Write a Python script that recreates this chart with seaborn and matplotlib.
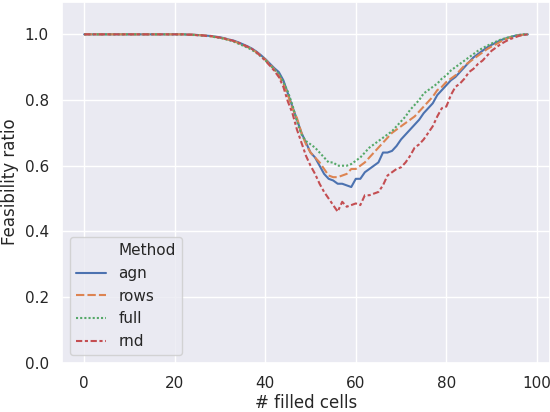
import pandas as pd
import numpy as np
import seaborn as sns
import matplotlib.pyplot as plt
from matplotlib.lines import Line2D

# number of filled cells, 0..98
cells = list(range(99))

head = [1.0] * 21  # x = 0..20, all methods fully feasible

agn = head + [
    1.0, 1.0, 0.999, 0.999, 0.998, 0.997, 0.996, 0.995, 0.993, 0.991,  # 21-30
    0.988, 0.984, 0.981, 0.976, 0.970, 0.964, 0.957, 0.948, 0.937, 0.925,  # 31-40
    0.911, 0.897, 0.885, 0.86, 0.82, 0.78, 0.74, 0.70, 0.67, 0.64,  # 41-50
    0.625, 0.60, 0.575, 0.56, 0.555, 0.545, 0.545, 0.54, 0.535, 0.56,  # 51-60
    0.56, 0.58, 0.59, 0.60, 0.61, 0.64, 0.64, 0.645, 0.66, 0.68,  # 61-70
    0.695, 0.71, 0.725, 0.74, 0.76, 0.775, 0.79, 0.815, 0.83, 0.845,  # 71-80
    0.86, 0.87, 0.885, 0.90, 0.915, 0.93, 0.94, 0.95, 0.96, 0.968,  # 81-90
    0.975, 0.982, 0.987, 0.991, 0.995, 0.998, 0.999, 1.0]  # 91-98

rows = head + [
    1.0, 1.0, 0.999, 0.999, 0.998, 0.997, 0.996, 0.994, 0.992, 0.990,
    0.987, 0.983, 0.979, 0.974, 0.968, 0.962, 0.955, 0.946, 0.935, 0.923,
    0.909, 0.893, 0.875, 0.85, 0.815, 0.775, 0.745, 0.70, 0.665, 0.64,
    0.625, 0.61, 0.59, 0.57, 0.565, 0.565, 0.57, 0.575, 0.59, 0.59,
    0.60, 0.61, 0.625, 0.64, 0.655, 0.67, 0.685, 0.70, 0.71, 0.72,
    0.73, 0.74, 0.75, 0.765, 0.78, 0.795, 0.81, 0.83, 0.84, 0.855,
    0.865, 0.875, 0.89, 0.905, 0.915, 0.925, 0.935, 0.945, 0.955, 0.963,
    0.97, 0.978, 0.985, 0.99, 0.994, 0.997, 0.999, 1.0]

full = head + [
    1.0, 1.0, 0.999, 0.998, 0.998, 0.996, 0.995, 0.994, 0.991, 0.989,
    0.986, 0.982, 0.978, 0.972, 0.966, 0.960, 0.953, 0.944, 0.933, 0.921,
    0.907, 0.893, 0.88, 0.855, 0.825, 0.785, 0.735, 0.695, 0.675, 0.665,
    0.655, 0.64, 0.625, 0.61, 0.61, 0.60, 0.60, 0.60, 0.605, 0.615,
    0.625, 0.64, 0.655, 0.665, 0.675, 0.685, 0.695, 0.705, 0.72, 0.735,
    0.75, 0.77, 0.785, 0.80, 0.82, 0.83, 0.84, 0.85, 0.865, 0.875,
    0.89, 0.90, 0.91, 0.92, 0.93, 0.94, 0.95, 0.958, 0.965, 0.972,
    0.978, 0.984, 0.988, 0.992, 0.995, 0.998, 1.0, 1.0]

rnd = head + [
    1.0, 1.0, 0.999, 0.999, 0.997, 0.997, 0.995, 0.995, 0.992, 0.990,
    0.987, 0.984, 0.980, 0.975, 0.969, 0.963, 0.956, 0.946, 0.934, 0.920,
    0.905, 0.889, 0.87, 0.84, 0.795, 0.76, 0.71, 0.67, 0.63, 0.60,
    0.575, 0.545, 0.52, 0.50, 0.48, 0.46, 0.49, 0.475, 0.48, 0.485,
    0.48, 0.51, 0.51, 0.515, 0.52, 0.54, 0.57, 0.58, 0.59, 0.595,
    0.61, 0.63, 0.655, 0.665, 0.68, 0.70, 0.72, 0.75, 0.775, 0.78,
    0.815, 0.84, 0.85, 0.865, 0.885, 0.895, 0.91, 0.92, 0.935, 0.95,
    0.96, 0.97, 0.978, 0.985, 0.99, 0.995, 0.998, 1.0]

methods = ['agn', 'rows', 'full', 'rnd']

df = pd.concat([
    pd.DataFrame({'# filled cells': cells, 'Feasibility ratio': vals, 'Method': m})
    for m, vals in zip(methods, [agn, rows, full, rnd])
])

sns.set_theme(style='darkgrid')
fig, ax = plt.subplots(figsize=(5.5, 4.12), dpi=100)
sns.lineplot(data=df, x='# filled cells', y='Feasibility ratio',
             hue='Method', style='Method', ax=ax)
ax.set_ylim(0, 1.1)
ax.set_yticks([0.0, 0.2, 0.4, 0.6, 0.8, 1.0])
ax.set_xlabel('# filled cells', labelpad=2.5)

# old-style legend: "Method" as a row without a handle
handles, labels = ax.get_legend_handles_labels()
blank = Line2D([], [], linestyle='none')
ax.legend([blank] + handles, ['Method'] + labels, loc='lower left')

# axes fills the figure like a tight-cropped save
fig.subplots_adjust(left=62 / 550, right=1.0, top=1 - 1.5 / 412, bottom=1 - 362.7 / 412)
plt.savefig('out.png')
